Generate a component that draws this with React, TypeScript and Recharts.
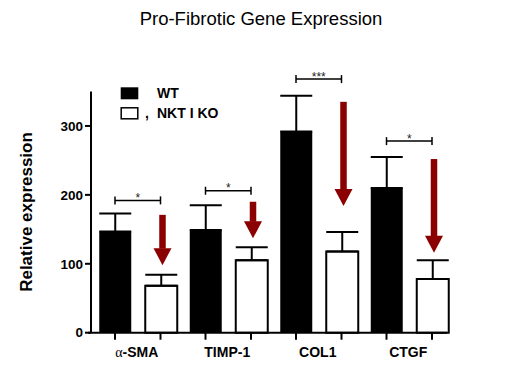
import React from 'react';
import { BarChart, Bar, XAxis, YAxis, ErrorBar, ReferenceLine, Legend } from 'recharts';

const categories = ['α-SMA', 'TIMP-1', 'COL1', 'CTGF'];
const wtValues = [147, 149, 292, 210];
const wtErrors = [26, 36, 52, 45];
const koValues = [68, 105, 118, 78];
const koErrors = [16, 19, 28, 27];
const sigLevels = [192, 206, 368, 278];
const sigLabels = ['*', '*', '***', '*'];
const arrowTops = [171, 190, 335, 252];
const arrowTips = [98, 137, 184, 116];
const yTicks = [0, 100, 200, 300];

const data = categories.map((c, i) => ({
  name: c,
  wt: wtValues[i],
  wtErr: [0, wtErrors[i]],
  ko: koValues[i],
  koErr: [0, koErrors[i]],
}));

const FONT = '"Liberation Sans", Arial, sans-serif';
const ARROW = '#8B0000';
const HALF = 22.75; // distance from category centre to each bar centre

const XTick = (props: any) => {
  const { x, y, payload } = props;
  const v: string = payload.value;
  const isAlpha = v.startsWith('α');
  return (
    <g>
      <line x1={x - HALF} x2={x - HALF} y1={y} y2={y + 7} stroke="#000" strokeWidth={2} />
      <line x1={x + HALF} x2={x + HALF} y1={y} y2={y + 7} stroke="#000" strokeWidth={2} />
      <text x={x - 1} y={y + 24} textAnchor="middle" fontFamily={FONT} fontWeight="bold" fontSize={14} fill="#000">
        {isAlpha ? (
          <>
            <tspan fontFamily='"Liberation Serif", serif' fontWeight="normal">α</tspan>
            {v.slice(1)}
          </>
        ) : v}
      </text>
    </g>
  );
};

const bracketShape = (label: string) => (p: any) => {
  const { x1: cx, y1 } = p;
  const a = cx - HALF;
  const b = cx + HALF;
  return (
    <g>
      <line x1={a} x2={b} y1={y1} y2={y1} stroke="#000" strokeWidth={1.5} />
      <line x1={a} x2={a} y1={y1 - 4} y2={y1 + 4} stroke="#000" strokeWidth={1.5} />
      <line x1={b} x2={b} y1={y1 - 4} y2={y1 + 4} stroke="#000" strokeWidth={1.5} />
      <text x={cx} y={y1 + 1.5} textAnchor="middle" fontFamily={FONT} fontSize={12} fill="#222">{label}</text>
    </g>
  );
};

const arrowShape = (p: any) => {
  const { x1: cx, y1, y2 } = p;
  const x = cx + HALF + 2;
  const head = 17;
  return (
    <g>
      <rect x={x - 3.25} y={y1} width={6.5} height={Math.max(0, y2 - head - y1 + 0.5)} fill={ARROW} />
      <polygon points={`${x - 9},${y2 - head} ${x + 9},${y2 - head} ${x},${y2}`} fill={ARROW} />
    </g>
  );
};

const xAxisLineShape = (p: any) => (
  <line x1={p.x1 - 49.75} x2={p.x2 + 37.75} y1={p.y1} y2={p.y2} stroke="#000" strokeWidth={2} />
);

const yLabel = () => (
  <text transform="translate(26,212) rotate(-90)" textAnchor="middle" dominantBaseline="central"
    fontFamily={FONT} fontWeight="bold" fontSize={17} fill="#000">Relative expression</text>
);

const LegendContent = () => (
  <svg width={150} height={40} style={{ display: 'block' }}>
    <rect x={2.7} y={3.3} width={17.6} height={12} fill="#000" />
    <text x={39} y={14} fontFamily={FONT} fontWeight="bold" fontSize={14} fill="#000">WT</text>
    <rect x={3.2} y={23.8} width={16.6} height={11} fill="#fff" stroke="#000" strokeWidth={1.5} />
    <text x={27} y={34} fontFamily={FONT} fontWeight="bold" fontSize={14} fill="#000">,</text>
    <text x={39} y={34} fontFamily={FONT} fontWeight="bold" fontSize={14} fill="#000">NKT I KO</text>
  </svg>
);

export default function App() {
  return (
    <div style={{ position: 'absolute', left: 0, top: 0, width: 529, height: 382, background: '#fff' }}>
      <div style={{ position: 'absolute', left: 0, top: 7.5, width: 522, textAlign: 'center', fontFamily: FONT, fontSize: 18.5, lineHeight: 'normal', color: '#000', zIndex: 2 }}>
        Pro-Fibrotic Gene Expression
      </div>
      <BarChart
        width={529}
        height={382}
        data={data}
        margin={{ top: 91.5, right: 74.5, bottom: 19.3, left: 31 }}
        barCategoryGap={6.75}
        barGap={14}
      >
        <XAxis dataKey="name" axisLine={false} tickLine={false} tickSize={0} tickMargin={0}
          height={30} padding={{ left: 1.5, right: 0 }} tick={<XTick />} interval={0} />
        <YAxis domain={[0, 350]} ticks={yTicks} width={60} axisLine={{ stroke: '#000', strokeWidth: 2 }}
          tickLine={{ stroke: '#000', strokeWidth: 2 }} tickSize={6} tickMargin={2}
          tick={{ fill: '#000', fontFamily: FONT, fontWeight: 'bold', fontSize: 13.5 }} label={yLabel} />
        <Legend layout="vertical" align="center" verticalAlign="middle" content={<LegendContent />}
          wrapperStyle={{ left: 118, top: 84, width: 150, height: 40 }} />
        <Bar dataKey="wt" fill="#000" isAnimationActive={false}>
          <ErrorBar dataKey="wtErr" width={16} strokeWidth={2} stroke="#000" direction="y" />
        </Bar>
        <Bar dataKey="ko" fill="#fff" stroke="#000" strokeWidth={2} isAnimationActive={false}>
          <ErrorBar dataKey="koErr" width={16} strokeWidth={2} stroke="#000" direction="y" />
        </Bar>
        <ReferenceLine ifOverflow="visible"
          segment={[{ x: categories[0], y: 0 }, { x: categories[categories.length - 1], y: 0 }]}
          shape={xAxisLineShape} />
        {categories.map((c, i) => (
          <ReferenceLine key={'s' + c} ifOverflow="visible"
            segment={[{ x: c, y: sigLevels[i] }, { x: c, y: sigLevels[i] }]}
            shape={bracketShape(sigLabels[i])} />
        ))}
        {categories.map((c, i) => (
          <ReferenceLine key={'a' + c} ifOverflow="visible"
            segment={[{ x: c, y: arrowTops[i] }, { x: c, y: arrowTips[i] }]}
            shape={arrowShape} />
        ))}
      </BarChart>
    </div>
  );
}
